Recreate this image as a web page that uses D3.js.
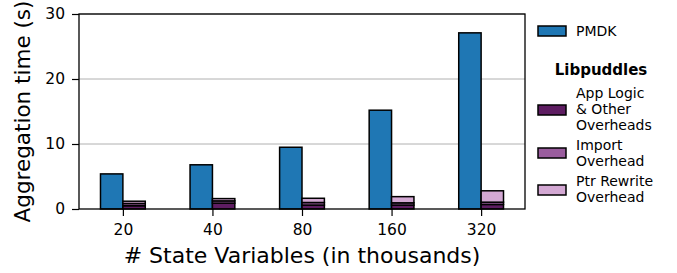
<!DOCTYPE html>
<meta charset="utf-8">
<style>
  body { margin: 0; background: #fff; }
  text { font-family: "DejaVu Sans", sans-serif; }
</style>
<div id="chart"></div>
<script src="https://d3js.org/d3.v7.min.js"></script>
<script>
  var categories = ["20", "40", "80", "160", "320"];
  var pmdk = [5.4, 6.8, 9.5, 15.2, 27.1];
  var appLogic = [0.5, 0.9, 0.6, 0.6, 0.7];
  var importOv = [0.35, 0.35, 0.4, 0.35, 0.35];
  var ptrRewrite = [0.35, 0.35, 0.65, 0.95, 1.75];
  var yTicks = [0, 10, 20, 30];

  var width = 677, height = 273;
  var margin = {top: 14, right: 152, bottom: 64, left: 79};
  var barW = 0.25;

  var svg = d3.select("#chart").append("svg")
      .attr("width", width)
      .attr("height", height);

  var x = d3.scaleLinear().domain([-0.49, 4.49]).range([margin.left, width - margin.right]);
  var y = d3.scaleLinear().domain([0, 30]).range([height - margin.bottom, margin.top]);

  // grid
  svg.append("g").selectAll("line")
      .data(yTicks.slice(1))
      .enter().append("line")
      .attr("x1", x.range()[0]).attr("x2", x.range()[1])
      .attr("y1", d => y(d)).attr("y2", d => y(d))
      .style("stroke", "#b0b0b0")
      .style("stroke-width", 1);

  // pmdk bars
  svg.append("g").selectAll("rect")
      .data(pmdk)
      .enter().append("rect")
      .attr("x", (d, i) => x(i - barW))
      .attr("width", x(barW) - x(0))
      .attr("y", d => y(d))
      .attr("height", d => y(0) - y(d))
      .style("fill", "#1f77b4")
      .style("stroke", "#000")
      .style("stroke-width", 1.5);

  // libpuddles stacks
  var layers = [
    {vals: appLogic, color: "#5e1d62"},
    {vals: importOv, color: "#9a5d9e"},
    {vals: ptrRewrite, color: "#d3a8d3"}
  ];
  var base = categories.map(() => 0);
  layers.forEach(function(layer) {
    var b = base.slice();
    svg.append("g").selectAll("rect")
        .data(layer.vals)
        .enter().append("rect")
        .attr("x", (d, i) => x(i))
        .attr("width", x(barW) - x(0))
        .attr("y", (d, i) => y(b[i] + d))
        .attr("height", d => y(0) - y(d))
        .style("fill", layer.color)
        .style("stroke", "#000")
        .style("stroke-width", 1.5);
    layer.vals.forEach((d, i) => base[i] += d);
  });

  // frame
  svg.append("rect")
      .attr("x", x.range()[0]).attr("y", y.range()[1])
      .attr("width", x.range()[1] - x.range()[0])
      .attr("height", y.range()[0] - y.range()[1])
      .style("fill", "none")
      .style("stroke", "#000")
      .style("stroke-width", 1.3);

  // axes
  var yAxis = svg.append("g")
      .attr("transform", "translate(" + x.range()[0] + ",0)")
      .call(d3.axisLeft(y).tickValues(yTicks).tickSize(7).tickPadding(7));
  var xAxis = svg.append("g")
      .attr("transform", "translate(0," + y.range()[0] + ")")
      .call(d3.axisBottom(x).tickValues(d3.range(categories.length))
        .tickFormat(i => categories[i]).tickSize(7).tickPadding(8));
  [xAxis, yAxis].forEach(function(a) {
    a.select(".domain").remove();
    a.selectAll("line").style("stroke", "#000").style("stroke-width", 1.2);
    a.selectAll("text").style("font-family", "DejaVu Sans").style("font-size", "15.5px").style("fill", "#000");
  });

  svg.append("text")
      .attr("x", (x.range()[0] + x.range()[1]) / 2)
      .attr("y", 263)
      .attr("text-anchor", "middle")
      .style("font-size", "22px")
      .text("# State Variables (in thousands)");

  svg.append("text")
      .attr("transform", "translate(30," + (y.range()[0] + y.range()[1]) / 2 + ") rotate(-90)")
      .attr("text-anchor", "middle")
      .style("font-size", "21.5px")
      .text("Aggregation time (s)");

  // legend
  var legend = svg.append("g");
  var patchX = 538, patchW = 28, patchH = 10, textX = 576;
  var entries = [
    {color: "#1f77b4", cy: 31, lines: ["PMDK"], ty: [36]},
    {color: "#5e1d62", cy: 110, lines: ["App Logic", "& Other", "Overheads"], ty: [98, 114, 130]},
    {color: "#9a5d9e", cy: 153, lines: ["Import", "Overhead"], ty: [150, 166]},
    {color: "#d3a8d3", cy: 190, lines: ["Ptr Rewrite", "Overhead"], ty: [186, 202]}
  ];
  entries.forEach(function(e) {
    legend.append("rect")
        .attr("x", patchX).attr("y", e.cy - patchH / 2)
        .attr("width", patchW).attr("height", patchH)
        .style("fill", e.color)
        .style("stroke", "#000")
        .style("stroke-width", 1.5);
    e.lines.forEach(function(l, j) {
      legend.append("text")
          .attr("x", textX).attr("y", e.ty[j])
          .style("font-size", "14px")
          .text(l);
    });
  });
  legend.append("text")
      .attr("x", 601).attr("y", 75)
      .attr("text-anchor", "middle")
      .style("font-size", "15px")
      .style("font-weight", "bold")
      .text("Libpuddles");
</script>
